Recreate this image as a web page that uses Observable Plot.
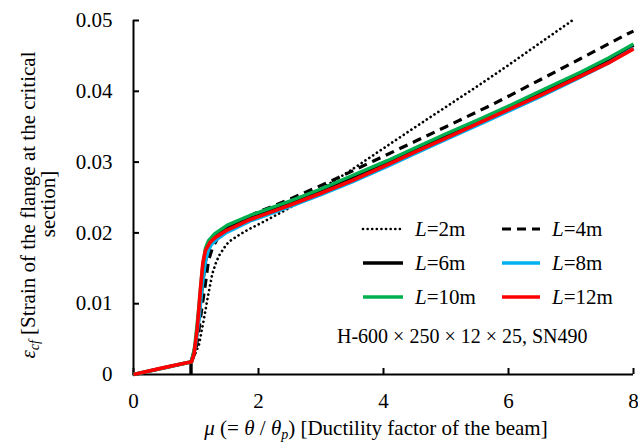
<!DOCTYPE html>
<html><head><meta charset="utf-8">
<script src="https://cdn.jsdelivr.net/npm/d3@7"></script>
<script src="https://cdn.jsdelivr.net/npm/@observablehq/plot@0.6"></script>
<style>
body{margin:0;background:#fff}
</style>
</head><body><div id="chart"></div>
<script>
// tick values
const xTicks = [0, 2, 4, 6, 8];
const yTicks = [0, 0.01, 0.02, 0.03, 0.04, 0.05];

// series names (beam length)
const seriesNames = ["2m", "4m", "6m", "8m", "10m", "12m"];

// L = 2m (dotted)
const x2 = [0, 0.93, 0.98, 1.05, 1.12, 1.18, 1.26, 1.32, 1.37, 1.45, 1.52, 1.65, 1.82, 2.0, 2.3, 2.72, 3.0, 3.47, 4.06, 4.5, 5.0, 5.55, 6.0, 6.5, 7.02];
const y2 = [0, 0.0018, 0.0028, 0.0043, 0.0075, 0.0105, 0.0142, 0.0158, 0.0168, 0.0179, 0.0187, 0.0195, 0.0204, 0.0212, 0.0226, 0.0246, 0.0262, 0.0288, 0.0323, 0.0349, 0.0378, 0.041, 0.0437, 0.0468, 0.05];
// L = 4m (dashed)
const x4 = [0, 0.93, 1.0, 1.05, 1.1, 1.15, 1.2, 1.26, 1.35, 1.5, 1.93, 2.51, 3.18, 3.85, 4.5, 5.0, 5.71, 6.0, 6.5, 7.15, 7.9, 8.0];
const y4 = [0, 0.0018, 0.0035, 0.0065, 0.0098, 0.0128, 0.0161, 0.0178, 0.0193, 0.0206, 0.0227, 0.0248, 0.0274, 0.0302, 0.0329, 0.035, 0.038, 0.0393, 0.0416, 0.0446, 0.0481, 0.0485];
// L = 6m (solid black)
const x6 = [0.92, 0.92, 0.98, 1.04, 1.1, 1.16, 1.22, 1.3, 1.5, 1.87, 2.0, 2.5, 3.0, 3.5, 4.06, 4.5, 5.0, 5.55, 6.0, 6.5, 7.15, 7.6, 8.0];
const y6 = [0, 0.0018, 0.0035, 0.0075, 0.0125, 0.0165, 0.0182, 0.0194, 0.0208, 0.0222, 0.0226, 0.0242, 0.0259, 0.0277, 0.0299, 0.0317, 0.0337, 0.0359, 0.0377, 0.0397, 0.0424, 0.0444, 0.0465];
// L = 8m (light blue)
const x8 = [0, 0.93, 0.99, 1.05, 1.1, 1.15, 1.2, 1.25, 1.35, 1.5, 1.87, 2.0, 2.5, 3.0, 3.5, 4.06, 4.5, 5.0, 5.55, 6.0, 6.5, 7.15, 7.6, 8.0];
const y8 = [0, 0.0018, 0.004, 0.008, 0.0125, 0.016, 0.0176, 0.0184, 0.0192, 0.0201, 0.0217, 0.0221, 0.0237, 0.0254, 0.0272, 0.0294, 0.0312, 0.0332, 0.0354, 0.0372, 0.0392, 0.042, 0.044, 0.0461];
// L = 10m (green)
const x10 = [0, 0.93, 0.98, 1.04, 1.1, 1.15, 1.2, 1.3, 1.5, 1.87, 2.0, 2.5, 3.0, 3.5, 4.06, 4.5, 5.0, 5.55, 6.0, 6.5, 7.15, 7.6, 8.0];
const y10 = [0, 0.0018, 0.004, 0.009, 0.0148, 0.0178, 0.0189, 0.0199, 0.0211, 0.0225, 0.0229, 0.0245, 0.0262, 0.0281, 0.0302, 0.032, 0.034, 0.0361, 0.0379, 0.04, 0.0427, 0.0447, 0.0467];
// L = 12m (red)
const x12 = [0, 0.45, 0.93, 0.97, 1.02, 1.07, 1.11, 1.15, 1.22, 1.3, 1.5, 1.87, 2.0, 2.5, 3.0, 3.5, 4.06, 4.5, 5.0, 5.55, 6.0, 6.5, 7.15, 7.6, 8.0];
const y12 = [0, 0.0009, 0.0018, 0.003, 0.0065, 0.012, 0.0158, 0.0175, 0.0186, 0.0193, 0.0204, 0.0219, 0.0223, 0.0239, 0.0256, 0.0274, 0.0296, 0.0314, 0.0334, 0.0356, 0.0374, 0.0394, 0.0421, 0.044, 0.046];

const xs = [x2, x4, x6, x8, x10, x12];
const ys = [y2, y4, y6, y8, y10, y12];
const colors = ["#000000", "#000000", "#000000", "#00B0F0", "#00B050", "#FF0000"];
const dashes = ["0.01,4.6", "9,6", null, null, null, null];
const widths = [2.7, 3.2, 3.4, 3.4, 3.4, 3.6];
const caps = ["round", "butt", "butt", "butt", "butt", "butt"];

const FONT = "Liberation Serif";

const rowsFor = i => xs[i].map((x, j) => ({x, y: ys[i][j], name: seriesNames[i]}));

const lineMarks = seriesNames.map((n, i) => Plot.line(rowsFor(i), {
  x: "x", y: "y", stroke: colors[i], strokeWidth: widths[i],
  strokeDasharray: dashes[i], strokeLinecap: caps[i], strokeLinejoin: "round"
}));

const plot = Plot.plot({
  width: 638, height: 446,
  marginLeft: 133, marginRight: 5, marginTop: 20, marginBottom: 72,
  style: {fontFamily: FONT, fontSize: "21px", background: "white", color: "black"},
  x: {domain: [0, 8]},
  y: {domain: [0, 0.05]},
  marks: [
    Plot.axisX({ticks: xTicks, tickSize: -6, tickPadding: 25, strokeWidth: 2, tickFormat: d => String(d), label: null, fill: "black"}),
    Plot.axisY({ticks: yTicks, tickSize: -6, tickPadding: 27, strokeWidth: 2, tickFormat: d => d === 0 ? "0" : d.toFixed(2), label: null, fill: "black"}),
    Plot.ruleX([0], {strokeWidth: 2}),
    Plot.ruleY([0], {strokeWidth: 2}),
    ...lineMarks
  ]
});
document.getElementById("chart").append(plot);

const svg = d3.select(plot);
svg.attr("font-family", FONT);
svg.selectAll("text").attr("font-family", FONT);

function txt(sel) {
  return sel.attr("font-family", FONT).attr("font-size", 21).attr("fill", "black");
}

// Y axis title (two lines, rotated)
const yt = txt(svg.append("text")).attr("transform", "translate(35,205) rotate(-90)").attr("text-anchor", "middle");
yt.append("tspan").attr("font-style", "italic").text("ε");
yt.append("tspan").attr("font-style", "italic").attr("font-size", 14).attr("dy", 4).text("cf");
yt.append("tspan").attr("dy", -4).text(" [Strain of the flange at the critical");
txt(svg.append("text")).attr("transform", "translate(55,204) rotate(-90)").attr("text-anchor", "middle").text("section]");

// X axis title
const xt = txt(svg.append("text")).attr("x", 376).attr("y", 435).attr("text-anchor", "middle");
xt.append("tspan").attr("font-style", "italic").text("μ");
xt.append("tspan").text(" (= ");
xt.append("tspan").attr("font-style", "italic").text("θ");
xt.append("tspan").text(" / ");
xt.append("tspan").attr("font-style", "italic").text("θ");
xt.append("tspan").attr("font-style", "italic").attr("font-size", 14).attr("dy", 4).text("p");
xt.append("tspan").attr("dy", -4).text(") [Ductility factor of the beam]");

// Legend
const legX = [363, 502];
const legRowY = [229, 263, 297];
seriesNames.forEach((n, i) => {
  const col = i % 2, row = Math.floor(i / 2);
  const lx = legX[col], ly = legRowY[row];
  svg.append("line").attr("x1", lx).attr("x2", lx + (col === 0 ? 40 : 38)).attr("y1", ly).attr("y2", ly)
    .attr("stroke", colors[i]).attr("stroke-width", widths[i])
    .attr("stroke-dasharray", dashes[i]).attr("stroke-linecap", caps[i]);
  const t = txt(svg.append("text")).attr("x", lx + (col === 0 ? 52 : 50)).attr("y", ly + 7).attr("text-anchor", "start");
  t.append("tspan").attr("font-style", "italic").text("L");
  t.append("tspan").text("=" + n);
});

// Section annotation
txt(svg.append("text")).attr("x", 337).attr("y", 343).attr("font-size", 20).attr("text-anchor", "start")
  .text("H-600 × 250 × 12 × 25, SN490");
</script>
</body></html>
